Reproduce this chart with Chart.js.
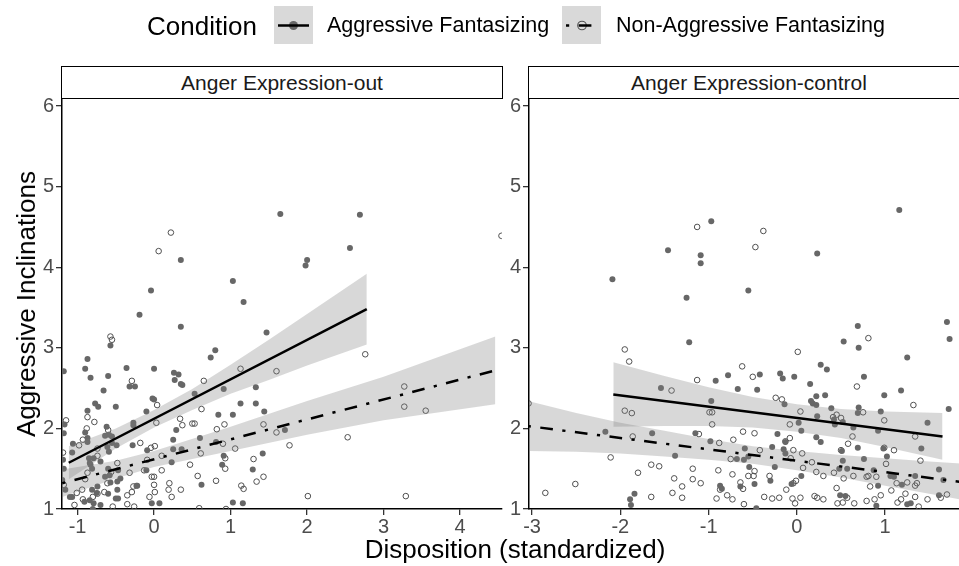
<!DOCTYPE html>
<html>
<head>
<meta charset="utf-8">
<script src="https://cdn.jsdelivr.net/npm/chart.js@4.4.1/dist/chart.umd.min.js"></script>
<style>
  html, body { margin: 0; padding: 0; background: #fff; overflow: hidden; }
  #wrap { position: relative; width: 959px; height: 566px; overflow: hidden; font-family: "Liberation Sans", Arial, sans-serif; }
  canvas { position: absolute; left: 0; top: 0; }
  .lab { position: absolute; white-space: nowrap; line-height: 1; color: #000; transform: translateY(-50%); }
  .strip { position: absolute; box-sizing: border-box; height: 33px; top: 66px; width: 442px; border: 1.6px solid #000; background: #fff;
           display: flex; align-items: center; justify-content: center; font-size: 21px; color: #1a1a1a; }
</style>
</head>
<body>
<div id="wrap">
  <canvas id="c1" width="959" height="566"></canvas>
  <canvas id="c2" width="980" height="566"></canvas>
  <div class="lab" style="left:147px; top:26px; font-size:26px;">Condition</div>
  <div class="lab" id="leg1" style="left:327px; top:26px; font-size:21.5px;"></div>
  <div class="lab" id="leg2" style="left:616px; top:26px; font-size:21.5px;"></div>
  <div class="strip" id="strip1" style="left:61px;"></div>
  <div class="strip" id="strip2" style="left:528px;"></div>
  <div class="lab" style="left:26px; top:304px; font-size:26px; transform: translate(-50%,-50%) rotate(-90deg);">Aggressive Inclinations</div>
  <div class="lab" style="left:515px; top:549px; font-size:26px; transform: translate(-50%,-50%);">Disposition (standardized)</div>
</div>
<script>
// facets and groups
const panels = ["Anger Expression-out", "Anger Expression-control"];
const conditions = ["Aggressive Fantasizing", "Non-Aggressive Fantasizing"];

// tick labels
const yTicks = [1, 2, 3, 4, 5, 6];
const xTicksOut = [-1, 0, 1, 2, 3, 4];
const xTicksControl = [-3, -2, -1, 0, 1];

// Anger Expression-out : raw points [disposition, inclination]
const outAgg = [[1.65,4.66],[2.69,4.65],[2.56,4.24],[2.00,4.09],[1.98,4.02],[0.35,4.09],[1.03,3.83],[1.17,3.57],[-0.04,3.71],[-0.19,3.41],
  [0.35,3.26],[1.47,3.19],[-0.57,3.03],[0.80,2.97],[0.74,2.88],[-0.87,2.86],[-0.90,2.74],[-0.36,2.75],[0.00,2.74],[-1.18,2.71],
  [-0.83,2.63],[-0.60,2.65],[0.27,2.60],[0.32,2.67],[0.26,2.69],[0.35,2.55],[0.37,2.54],[-0.32,2.52],[-0.25,2.52],[1.33,2.51],
  [-0.66,2.47],[0.91,2.49],[0.53,2.43],[-0.02,2.37],[0.00,2.36],[-0.77,2.31],[1.13,2.31],[1.33,2.31],[-0.73,2.27],[-0.50,2.27],
  [-0.87,2.22],[1.44,2.21],[-0.10,2.21],[0.84,2.17],[1.03,2.17],[-0.27,2.07],[-0.27,2.04],[-1.17,2.05],[-0.62,2.02],[-0.90,1.95],
  [-1.18,1.94],[0.29,1.98],[1.71,1.98],[-0.59,1.92],[0.60,1.88],[-0.87,1.83],[-0.55,1.82],[0.81,1.83],[-0.49,1.79],[-0.28,1.79],
  [0.25,1.86],[-1.06,1.81],[-0.09,1.73],[0.25,1.74],[0.36,1.74],[-0.59,1.71],[-1.18,1.50],[0.91,1.66],[1.42,1.69],[0.23,1.58],
  [0.89,1.55],[1.29,1.49],[-0.10,1.48],[-0.58,1.42],[-0.85,1.63],[-0.83,1.55],[-0.57,1.33],[-0.44,1.38],[0.62,1.30],[-0.22,1.29],
  [-1.16,1.24],[-1.07,1.15],[-0.91,1.09],[-0.03,1.07],[0.07,1.07],[1.03,1.08],[1.16,1.07],[-0.79,1.07],[-0.50,1.13],[-0.74,1.28],
  [-1.19,1.61],[-0.87,1.88],[-0.64,1.91],[-0.55,1.90],[-0.61,1.77],[-1.07,1.70],[-0.79,1.63],[-0.84,1.57],[-0.70,1.59],[-0.81,1.50],
  [-0.60,1.50],[-0.47,1.48],[-0.48,1.34],[-0.64,1.40],[-0.23,1.29],[-0.81,1.24],[-0.48,1.24],[-0.60,1.19],[-1.10,1.15],[-0.84,1.11],
  [-0.47,1.13],[-1.20,1.36],[-0.75,1.20],[-0.70,1.05],[-0.80,1.00]];
const outNon = [[4.54,4.39],[0.22,4.43],[0.06,4.20],[-0.57,3.14],[-0.55,3.10],[2.76,2.92],[1.13,2.74],[1.60,2.71],[-0.29,2.59],[0.65,2.59],
  [3.27,2.52],[3.27,2.27],[3.55,2.22],[0.04,2.29],[0.62,2.24],[-0.87,2.14],[0.34,2.12],[-1.15,2.10],[-0.78,2.08],[0.37,2.04],
  [0.03,2.07],[0.50,2.06],[0.53,2.06],[0.92,2.05],[1.43,2.05],[-0.88,2.00],[0.82,1.99],[1.60,1.95],[-0.60,1.98],[2.53,1.89],
  [1.77,1.79],[-0.93,1.86],[-0.18,1.82],[0.01,1.78],[-0.04,1.76],[1.06,1.75],[0.90,1.81],[0.61,1.69],[0.10,1.66],[-0.74,1.66],
  [-1.19,1.70],[0.47,1.55],[0.93,1.63],[1.30,1.62],[0.93,1.50],[0.10,1.48],[1.43,1.40],[0.57,1.41],[1.34,1.34],[0.81,1.35],
  [1.14,1.29],[1.17,1.25],[0.35,1.24],[0.20,1.32],[0.19,1.24],[0.23,1.15],[2.01,1.16],[3.29,1.16],[0.01,1.21],[-0.06,1.15],
  [-0.13,1.48],[-0.09,1.61],[-0.32,1.45],[-0.48,1.57],[-0.56,1.46],[-0.61,1.32],[-0.35,1.17],[-0.29,1.21],[-0.27,1.28],[-0.87,1.45],
  [-0.90,1.37],[-0.94,1.24],[-1.01,1.20],[-0.80,1.15],[-0.74,1.19],[-0.93,1.12],[-1.04,1.05],[-0.35,1.06],[-0.26,1.03],[0.59,1.01],
  [0.94,1.00],[-0.54,1.03],[-0.65,1.21],[-0.74,1.75],[-0.98,1.79],[-1.18,1.30],[0.00,1.30],[0.00,1.40],[-0.03,1.40]];

// Anger Expression-control : raw points
const ctrlAgg = [[1.16,4.71],[-0.97,4.57],[-1.09,4.15],[-1.09,4.05],[-1.46,4.21],[0.23,4.17],[-2.09,3.85],[-1.25,3.62],[-0.55,3.71],[-1.22,3.07],
  [1.70,3.32],[1.73,3.11],[0.69,3.27],[0.53,3.08],[0.70,3.00],[1.25,2.88],[0.27,2.79],[0.34,2.73],[-0.42,2.67],[-0.78,2.66],
  [-0.19,2.68],[-0.16,2.62],[-0.03,2.64],[0.76,2.64],[-0.92,2.59],[0.15,2.55],[-0.67,2.49],[-0.45,2.48],[-1.54,2.50],[1.18,2.47],
  [0.22,2.40],[0.32,2.41],[0.99,2.41],[-0.97,2.34],[0.16,2.34],[0.18,2.31],[0.22,2.29],[-0.14,2.30],[0.39,2.25],[0.70,2.26],
  [1.72,2.24],[0.95,2.21],[0.23,2.15],[0.69,2.19],[0.42,2.11],[0.52,2.08],[0.02,2.07],[0.43,2.05],[1.48,2.07],[0.64,2.01],
  [0.92,1.97],[-2.17,1.96],[0.05,1.97],[-1.64,1.94],[-1.15,1.94],[-0.22,1.93],[0.22,1.89],[0.27,1.83],[-0.13,1.83],[-0.98,1.84],
  [0.69,1.76],[0.98,1.75],[1.41,1.75],[0.51,1.72],[-0.28,1.77],[-0.59,1.75],[-0.15,1.74],[-0.13,1.69],[1.02,1.65],[0.76,1.62],
  [-1.38,1.66],[-0.55,1.65],[-0.68,1.62],[-0.60,1.61],[0.52,1.60],[-0.54,1.52],[-0.25,1.52],[0.48,1.50],[0.57,1.50],[1.61,1.49],
  [0.87,1.48],[1.06,1.41],[1.34,1.41],[0.05,1.41],[1.66,1.36],[-0.30,1.35],[-0.48,1.31],[-0.06,1.31],[-0.87,1.29],[-0.64,1.28],
  [0.92,1.29],[1.19,1.30],[-1.84,1.19],[-1.89,1.12],[-1.88,1.05],[1.61,1.17],[0.55,1.16],[0.90,1.04],[1.25,1.06],[1.29,1.07],
  [-0.46,1.01],[1.10,1.40],[0.49,1.17],[-0.85,1.25]];
const ctrlNon = [[-1.13,4.50],[-0.38,4.45],[-0.47,4.25],[0.81,3.12],[-1.95,2.98],[0.01,2.95],[-1.90,2.83],[-0.62,2.77],[-1.13,2.60],[-0.50,2.64],
  [0.68,2.52],[-1.42,2.47],[1.32,2.29],[-3.04,2.31],[-0.17,2.36],[-0.24,2.38],[-1.95,2.22],[-1.87,2.19],[-0.99,2.20],[-0.96,2.20],
  [0.04,2.21],[0.75,2.20],[0.41,2.14],[0.45,2.17],[0.50,2.13],[0.99,2.10],[-0.96,2.05],[-0.08,2.05],[1.34,1.90],[-1.86,1.90],
  [-1.11,1.93],[-0.61,1.96],[-0.48,1.94],[-0.88,1.82],[-0.72,1.86],[-0.08,1.88],[-0.13,1.84],[-0.04,1.73],[0.06,1.69],[0.58,1.81],
  [0.50,1.73],[1.10,1.73],[0.99,1.76],[-2.11,1.64],[-0.75,1.62],[-0.07,1.63],[1.40,1.60],[1.01,1.56],[0.17,1.58],[-1.65,1.55],
  [-1.56,1.53],[-1.80,1.45],[-1.18,1.50],[-0.89,1.48],[-0.48,1.47],[0.22,1.46],[0.07,1.51],[0.53,1.38],[-0.73,1.43],[-0.55,1.41],
  [-0.49,1.41],[-0.31,1.41],[0.30,1.41],[0.64,1.41],[0.79,1.40],[0.81,1.41],[0.90,1.40],[1.34,1.29],[1.36,1.32],[1.25,1.33],
  [1.13,1.32],[-1.39,1.38],[-1.18,1.37],[-1.09,1.32],[-0.04,1.32],[-0.01,1.35],[-2.51,1.31],[-2.85,1.20],[-1.30,1.28],[-1.41,1.20],
  [-1.30,1.14],[-1.65,1.15],[-0.91,1.13],[-0.87,1.24],[-0.79,1.17],[-0.73,1.12],[-0.64,1.33],[-0.61,1.25],[-0.60,1.06],[-0.37,1.15],
  [-0.28,1.13],[-0.20,1.14],[-0.12,1.24],[-0.05,1.13],[-0.02,1.07],[0.04,1.14],[0.20,1.16],[0.23,1.14],[0.30,1.12],[0.46,1.07],
  [0.52,1.08],[0.57,1.14],[0.79,1.10],[0.88,1.12],[0.95,1.17],[1.07,1.23],[1.14,1.08],[1.18,1.12],[1.23,1.19],[1.34,1.15],
  [1.38,1.03],[1.48,1.12],[1.63,1.14],[1.70,1.18],[0.65,1.07],[0.45,1.26],[0.83,1.28],[0.42,1.45],[-0.42,1.73],[0.63,1.90]];

// fitted lines (ends) and confidence bands
const outAggFitX = [-1.115, 2.78], outAggFitY = [1.574, 3.48];
const outAggBandX = [-1.115, -0.5, 0, 0.5, 1, 1.5, 2, 2.78];
const outAggBandHi = [1.78, 2.00, 2.23, 2.49, 2.79, 3.10, 3.42, 3.92];
const outAggBandLo = [1.37, 1.75, 2.01, 2.23, 2.43, 2.60, 2.78, 3.04];

const outNonFitX = [-1.2, 4.46], outNonFitY = [1.32, 2.72];
const outNonBandX = [-1.2, -0.5, 0, 1, 2, 3, 4.46];
const outNonBandHi = [1.49, 1.60, 1.72, 2.02, 2.34, 2.64, 3.14];
const outNonBandLo = [1.15, 1.38, 1.52, 1.72, 1.92, 2.10, 2.30];

const ctrlAggFitX = [-2.08, 1.65], ctrlAggFitY = [2.42, 1.90];
const ctrlAggBandX = [-2.08, -1.5, -1, -0.5, 0, 0.5, 1, 1.65];
const ctrlAggBandHi = [2.82, 2.65, 2.51, 2.39, 2.30, 2.24, 2.21, 2.19];
const ctrlAggBandLo = [2.02, 2.03, 2.03, 2.01, 1.96, 1.88, 1.77, 1.61];

const ctrlNonFitX = [-3.05, 1.9], ctrlNonFitY = [2.03, 1.33];
const ctrlNonBandX = [-3.05, -2.5, -2, -1.5, -1, -0.5, 0, 0.5, 1, 1.5, 1.9];
const ctrlNonBandHi = [2.34, 2.19, 2.07, 1.97, 1.87, 1.78, 1.72, 1.67, 1.63, 1.59, 1.56];
const ctrlNonBandLo = [1.72, 1.71, 1.69, 1.65, 1.61, 1.56, 1.48, 1.39, 1.29, 1.19, 1.11];

const bandFill = "rgba(127,127,127,0.3)";
const aggDot = "#676767";
const openRing = "#505050";
const dotdash = [3.2, 9.5, 12.7, 9.5];

document.getElementById("leg1").textContent = conditions[0];
document.getElementById("leg2").textContent = conditions[1];
document.getElementById("strip1").textContent = panels[0];
document.getElementById("strip2").textContent = panels[1];

function pairs(arr) {
  return arr.map((p) => ({ x: p[0], y: p[1] }));
}
function zip(xs, ys) {
  return xs.map((x, i) => ({ x: x, y: ys[i] }));
}

function makeDatasets(agg, non, aFx, aFy, aBx, aHi, aLo, nFx, nFy, nBx, nHi, nLo) {
  return [
    { data: pairs(agg), showLine: false, pointRadius: 3, pointBackgroundColor: aggDot, pointBorderWidth: 0, order: 3, clip: 0 },
    { data: pairs(non), showLine: false, pointRadius: 2.8, pointBackgroundColor: "rgba(0,0,0,0)", pointBorderColor: openRing, pointBorderWidth: 1, order: 3, clip: 0 },
    { data: zip(aBx, aLo), borderWidth: 0, borderColor: "rgba(0,0,0,0)", pointRadius: 0, fill: false, order: 2, clip: 0 },
    { data: zip(aBx, aHi), borderWidth: 0, borderColor: "rgba(0,0,0,0)", pointRadius: 0, fill: "-1", backgroundColor: bandFill, order: 2, clip: 0 },
    { data: zip(nBx, nLo), borderWidth: 0, borderColor: "rgba(0,0,0,0)", pointRadius: 0, fill: false, order: 2, clip: 0 },
    { data: zip(nBx, nHi), borderWidth: 0, borderColor: "rgba(0,0,0,0)", pointRadius: 0, fill: "-1", backgroundColor: bandFill, order: 2, clip: 0 },
    { data: zip(aFx, aFy), borderColor: "#000", borderWidth: 2.5, pointRadius: 0, fill: false, order: 1, clip: 0 },
    { data: zip(nFx, nFy), borderColor: "#000", borderWidth: 2.5, borderDash: dotdash, pointRadius: 0, fill: false, order: 1, clip: 0 },
  ];
}

function makeOptions(xmin, xmax, xticks, yWidth, pad) {
  return {
    responsive: false,
    animation: false,
    events: [],
    layout: { padding: pad },
    plugins: { legend: { display: false }, tooltip: { enabled: false } },
    scales: {
      x: {
        type: "linear",
        min: xmin,
        max: xmax,
        afterBuildTicks: (s) => { s.ticks = xticks.map((v) => ({ value: v })); },
        afterFit: (s) => { s.height = 30; },
        ticks: { color: "#4d4d4d", font: { size: 20, family: "Liberation Sans, Arial" }, padding: 0, maxRotation: 0, autoSkip: false },
        grid: { drawOnChartArea: false, drawTicks: true, tickLength: 6, color: "#333", lineWidth: 1.3 },
        border: { display: true, color: "#000", width: 1.5 },
      },
      y: {
        min: 1,
        max: 6.1,
        afterBuildTicks: (s) => { s.ticks = yTicks.map((v) => ({ value: v })); },
        afterFit: (s) => { s.width = yWidth; },
        ticks: { color: "#4d4d4d", font: { size: 20, family: "Liberation Sans, Arial" }, padding: 2 },
        grid: { drawOnChartArea: false, drawTicks: true, tickLength: 6, color: "#333", lineWidth: 1.3 },
        border: { display: true, color: "#000", width: 1.5 },
      },
    },
  };
}

// legend keys, drawn on the first canvas
const legendKeys = {
  id: "legendKeys",
  afterDraw(chart) {
    const ctx = chart.ctx;
    ctx.save();
    ctx.fillStyle = "#d9d9d9";
    ctx.fillRect(274, 6, 39, 38);
    ctx.fillRect(562, 6, 39, 38);
    // aggressive key
    ctx.beginPath();
    ctx.arc(293.5, 25.5, 4.5, 0, Math.PI * 2);
    ctx.fillStyle = aggDot;
    ctx.fill();
    ctx.strokeStyle = "#000";
    ctx.lineWidth = 2.5;
    ctx.beginPath();
    ctx.moveTo(278, 25.5);
    ctx.lineTo(309, 25.5);
    ctx.stroke();
    // non-aggressive key
    ctx.beginPath();
    ctx.arc(582, 25.5, 4.3, 0, Math.PI * 2);
    ctx.lineWidth = 1.1;
    ctx.strokeStyle = openRing;
    ctx.stroke();
    ctx.setLineDash(dotdash);
    ctx.lineWidth = 2.5;
    ctx.strokeStyle = "#000";
    ctx.beginPath();
    ctx.moveTo(566, 25.5);
    ctx.lineTo(597, 25.5);
    ctx.stroke();
    ctx.restore();
  },
};

new Chart(document.getElementById("c1"), {
  type: "line",
  data: {
    datasets: makeDatasets(outAgg, outNon, outAggFitX, outAggFitY, outAggBandX, outAggBandHi, outAggBandLo,
      outNonFitX, outNonFitY, outNonBandX, outNonBandHi, outNonBandLo),
  },
  options: makeOptions(-1.203, 4.547, xTicksOut, 62, { left: 0, right: 457, top: 98, bottom: 27 }),
  plugins: [legendKeys],
});

new Chart(document.getElementById("c2"), {
  type: "line",
  data: {
    datasets: makeDatasets(ctrlAgg, ctrlNon, ctrlAggFitX, ctrlAggFitY, ctrlAggBandX, ctrlAggBandHi, ctrlAggBandLo,
      ctrlNonFitX, ctrlNonFitY, ctrlNonBandX, ctrlNonBandHi, ctrlNonBandLo),
  },
  options: makeOptions(-3.035, 1.95, xTicksControl, 30, { left: 499, right: 11, top: 98, bottom: 27 }),
});
</script>
</body>
</html>
